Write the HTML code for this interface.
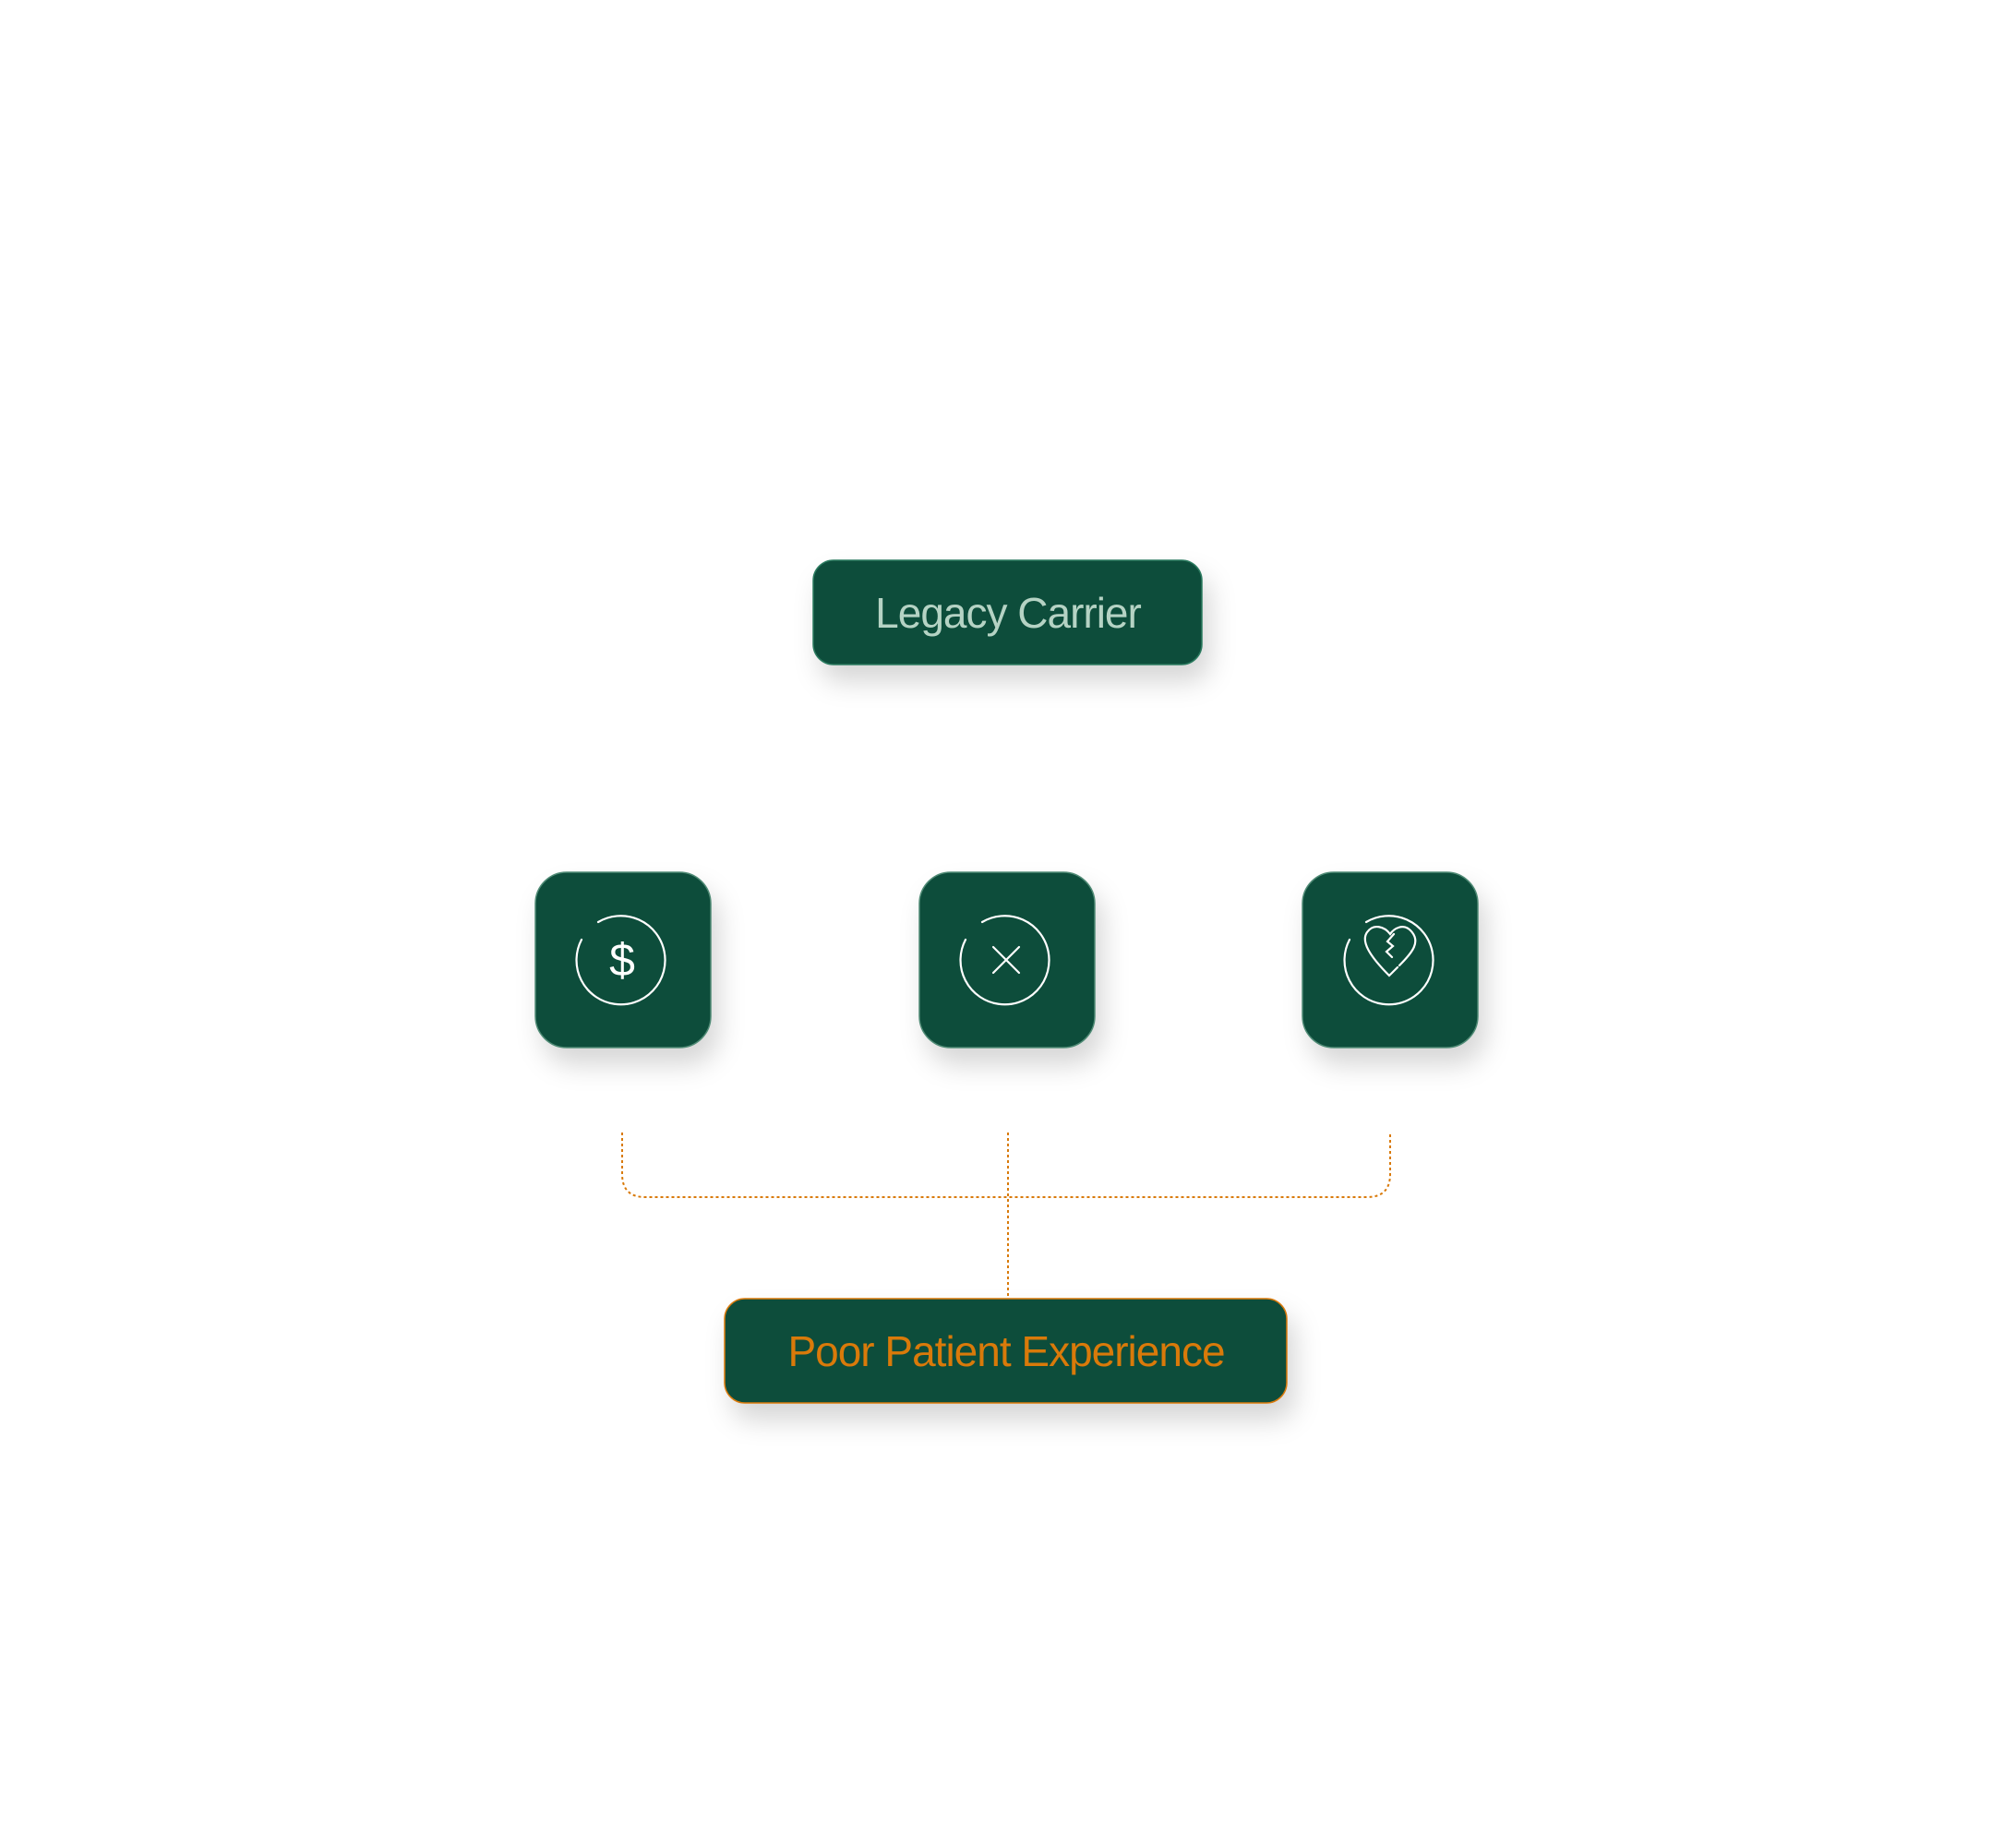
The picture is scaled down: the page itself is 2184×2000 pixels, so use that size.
<!DOCTYPE html>
<html><head><style>
html,body{margin:0;padding:0;background:#fff;}
svg{display:block;}
</style></head><body>
<svg width="2184" height="2000" viewBox="0 0 2184 2000" xmlns="http://www.w3.org/2000/svg">
<defs>
<filter id="sh" x="-40%" y="-40%" width="180%" height="200%">
<feDropShadow dx="8" dy="18" stdDeviation="14" flood-color="#000" flood-opacity="0.16"/>
</filter>
</defs>
<rect width="2184" height="2000" fill="#fff"/>
<!-- connectors -->
<g fill="none" stroke="#d97a0a" stroke-width="2" stroke-dasharray="3 3">
<path d="M674 1227 V1272 Q674 1297 699 1297 H1481 Q1506 1297 1506 1272 V1227"/>
<path d="M1092 1227 V1405"/>
</g>
<!-- top -->
<rect x="881" y="607" width="421" height="113" rx="22" fill="#0f4d3b" stroke="#2b7a5e" stroke-width="1.5" filter="url(#sh)"/>
<text x="1092" y="680" text-anchor="middle" font-family="Liberation Sans, sans-serif" font-size="46" fill="#b5d3c4" letter-spacing="-1">Legacy Carrier</text>
<!-- icon boxes -->
<g fill="#0f4d3b" stroke="#4f8a74" stroke-width="1.5" filter="url(#sh)">
<rect x="580" y="945" width="190" height="190" rx="34"/>
<rect x="996" y="945" width="190" height="190" rx="34"/>
<rect x="1411" y="945" width="190" height="190" rx="34"/>
</g>
<g fill="none" stroke="#fff" stroke-width="2.2" stroke-linecap="round">
<path d="M648 999 A48 48 0 1 1 630 1018"/>
<path d="M1064 999 A48 48 0 1 1 1046 1018"/>
<path d="M1480 999 A48 48 0 1 1 1462 1018"/>
<path d="M1076 1026 L1104 1054 M1104 1026 L1076 1054"/>
<path d="M1516 1046 C1530 1032 1540 1020 1528 1008 C1520 1000 1510 1006 1506 1012 C1500 1004 1488 1000 1481 1010 C1474 1020 1484 1036 1505 1057 L1514 1048"/>
<path d="M1510 1012 L1503 1020 L1509 1025 L1502 1031 L1508 1037"/>
</g>
<text x="674" y="1057" text-anchor="middle" font-family="Liberation Sans, sans-serif" font-size="50" fill="#fff" font-weight="300">$</text>
<!-- bottom -->
<rect x="785" y="1407" width="609" height="113" rx="22" fill="#0f4d3b" stroke="#d97a0a" stroke-width="1.5" filter="url(#sh)"/>
<text x="1090" y="1480" text-anchor="middle" font-family="Liberation Sans, sans-serif" font-size="46" fill="#d97a0a" letter-spacing="-1">Poor Patient Experience</text>
</svg>
</body></html>
